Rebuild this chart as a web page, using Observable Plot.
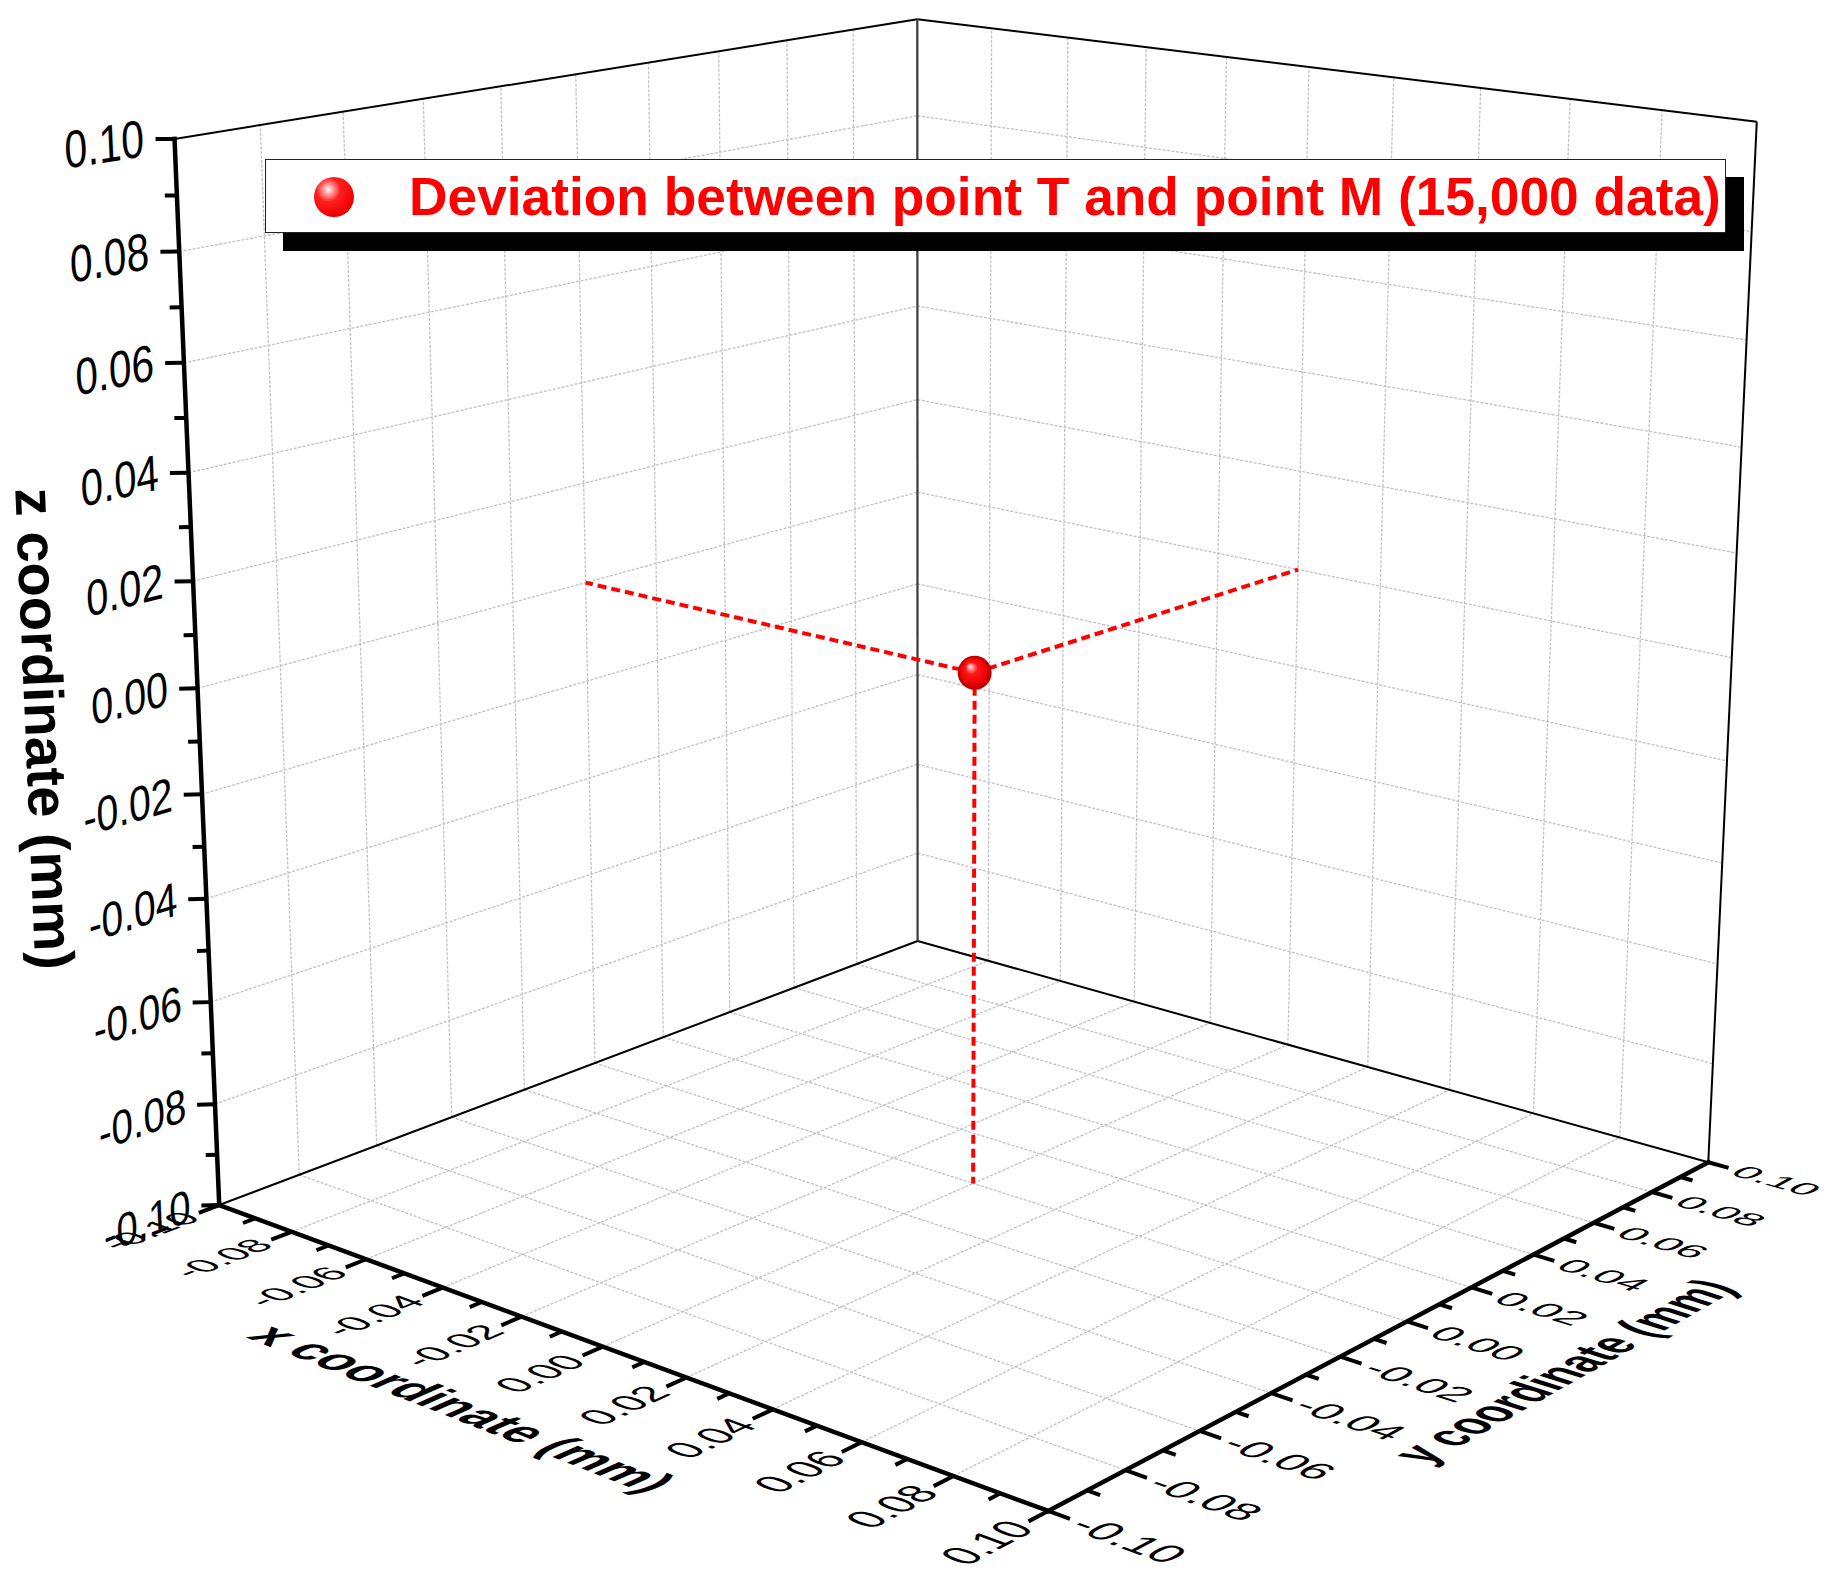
<!DOCTYPE html>
<html>
<head>
<meta charset="utf-8">
<script src="https://cdn.jsdelivr.net/npm/d3@7"></script>
<script src="https://cdn.jsdelivr.net/npm/@observablehq/plot@0.6"></script>
<style>
  html, body { margin:0; padding:0; background:#fff; }
  #wrap { position:relative; width:1833px; height:1594px; overflow:hidden; font-family:'Liberation Sans', Arial, sans-serif; }
  #wrap svg { position:absolute; left:0; top:0; }
  #legend { position:absolute; left:265px; top:159px; width:1459px; height:72px; background:#fff; border:1.5px solid #222; box-shadow:18px 18px 0 0 #000; }
  #legend .ball { position:absolute; left:48px; top:17px; width:40px; height:40px; border-radius:50%;
    background: radial-gradient(circle at 36% 32%, #ffffff 0%, #ffb0b0 10%, #ff2020 32%, #f00000 70%, #b00000 100%); }
  #legend .lab { position:absolute; left:143px; top:0; line-height:74px; font-size:53.3px; font-weight:bold; color:#ff0000; white-space:nowrap; }
</style>
</head>
<body>
<div id="wrap"></div>
<script>
// ---------------- DATA ----------------
const axisDomain = [-0.10, 0.10];
const xTickValues = [-0.10, -0.08, -0.06, -0.04, -0.02, 0.00, 0.02, 0.04, 0.06, 0.08, 0.10];
const xTickLabels = ["-0.10", "-0.08", "-0.06", "-0.04", "-0.02", "0.00", "0.02", "0.04", "0.06", "0.08", "0.10"];
const yTickValues = [-0.10, -0.08, -0.06, -0.04, -0.02, 0.00, 0.02, 0.04, 0.06, 0.08, 0.10];
const yTickLabels = ["-0.10", "-0.08", "-0.06", "-0.04", "-0.02", "0.00", "0.02", "0.04", "0.06", "0.08", "0.10"];
const zTickValues = [-0.10, -0.08, -0.06, -0.04, -0.02, 0.00, 0.02, 0.04, 0.06, 0.08, 0.10];
const zTickLabels = ["-0.10", "-0.08", "-0.06", "-0.04", "-0.02", "0.00", "0.02", "0.04", "0.06", "0.08", "0.10"];
const minorTickValues = [-0.09, -0.07, -0.05, -0.03, -0.01, 0.01, 0.03, 0.05, 0.07, 0.09];
const pointX = [0.000];
const pointY = [0.000];
const pointZ = [0.000];
const legendLabel = "Deviation between point T and point M (15,000 data)";
const xTitle = "x coordinate (mm)";
const yTitle = "y coordinate (mm)";
const zTitle = "z coordinate (mm)";

// ---------------- CAMERA (perspective view of the unit box) ----------------
const W = 1833, H = 1594;
const cam = [
  [347.79294, 431.87541, -28.02191, 974.16811],
  [49.07125, -55.70249, -546.52152, 672.28571],
  [-0.07053, 0.08355, -0.03036, 1.00000]
];
const half = 0.1;
function P3(x,y,z){
  const X=x/half, Y=y/half, Z=z/half;
  const w = cam[2][0]*X+cam[2][1]*Y+cam[2][2]*Z+cam[2][3];
  return [(cam[0][0]*X+cam[0][1]*Y+cam[0][2]*Z+cam[0][3])/w, (cam[1][0]*X+cam[1][1]*Y+cam[1][2]*Z+cam[1][3])/w, w];
}

// ---------------- LAYOUT ----------------
const F0 = 20;                 // nominal font size for 3D text
const zTickEm = 0.0093, xyTickEm = 0.0090, titleEm = 0.0112;
const majorLen = {x:0.005, y:0.0045, z:0.0033}, minorLen = {x:0.003, y:0.0027, z:0.0021};
const zLabelOffset = 0.0053, xLabelOffset = 0.0065, yLabelOffset = 0.0062;
const xTitleOffset = 0.034, yTitleOffset = 0.033, zTitleOffset = 0.028, zTitleShift = -0.007;

const [lo, hi] = axisDomain;
const D = Math.SQRT1_2;
function seg(a,b){ const p=P3(...a), q=P3(...b); return {x1:p[0],y1:p[1],x2:q[0],y2:q[1]}; }
function jac(p, dir, e){ const h=1e-4; const a=P3(...p), b=P3(p[0]+dir[0]*h,p[1]+dir[1]*h,p[2]+dir[2]*h); const k=e/F0/h; return [(b[0]-a[0])*k,(b[1]-a[1])*k]; }
function textMatrix(p, base, up, e){ const t=jac(p,base,e), u=jac(p,up,e); return [t[0],t[1],-u[0],-u[1]]; }

const inner = v => v > lo + 1e-9 && v < hi - 1e-9;
const grid = [];
xTickValues.filter(inner).forEach(x => { grid.push(seg([x,lo,lo],[x,hi,lo])); grid.push(seg([x,hi,lo],[x,hi,hi])); });
yTickValues.filter(inner).forEach(y => { grid.push(seg([lo,y,lo],[hi,y,lo])); grid.push(seg([lo,y,lo],[lo,y,hi])); });
zTickValues.filter(inner).forEach(z => { grid.push(seg([lo,lo,z],[lo,hi,z])); grid.push(seg([lo,hi,z],[hi,hi,z])); });

const edges = [seg([lo,lo,hi],[lo,hi,hi]), seg([lo,hi,hi],[hi,hi,hi]), seg([hi,hi,lo],[hi,hi,hi]),
               seg([lo,lo,lo],[lo,hi,lo]), seg([lo,hi,lo],[hi,hi,lo])];
const backEdge = [seg([lo,hi,lo],[lo,hi,hi])];
const axes = [seg([lo,lo,lo],[lo,lo,hi]), seg([lo,lo,lo],[hi,lo,lo]), seg([hi,lo,lo],[hi,hi,lo])];

const ticks = [];
function addTicks(vals, len){
  vals.forEach(v => {
    ticks.push(seg([v,lo,lo],[v,lo-len.x,lo]));
    ticks.push(seg([hi,v,lo],[hi+len.y,v,lo]));
    ticks.push(seg([lo,lo,v],[lo-D*len.z,lo-D*len.z,v]));
  });
}
addTicks(xTickValues, majorLen);
addTicks(minorTickValues, minorLen);

const drops = [];
pointX.forEach((px,i) => { const py=pointY[i], pz=pointZ[i];
  drops.push(seg([px,py,pz],[lo,py,pz])); drops.push(seg([px,py,pz],[px,hi,pz])); drops.push(seg([px,py,pz],[px,py,lo])); });
const pts = pointX.map((px,i) => { const s=P3(px,pointY[i],pointZ[i]); return {x:s[0], y:s[1]}; });

function lab(p, text, base, up, e){ const s=P3(...p); return {x:s[0], y:s[1], text, m:textMatrix(p,base,up,e)}; }
const zLab = zTickValues.map((z,i) => lab([lo-D*zLabelOffset, lo-D*zLabelOffset, z], zTickLabels[i], [0,1,0], [0,0,1], zTickEm));
const xLab = xTickValues.map((x,i) => lab([x, lo-xLabelOffset, lo], xTickLabels[i], [0,1,0], [-1,0,0], xyTickEm));
const yLab = yTickValues.map((y,i) => lab([hi+yLabelOffset, y, lo], yTickLabels[i], [1,0,0], [0,1,0], xyTickEm));
const xTit = [lab([(lo+hi)/2, lo-xTitleOffset, lo], xTitle, [1,0,0], [0,1,0], titleEm)];
const yTit = [lab([hi+yTitleOffset, (lo+hi)/2, lo], yTitle, [0,1,0], [-1,0,0], titleEm)];
const zt = P3(lo-D*zTitleOffset, lo-D*zTitleOffset, zTitleShift);
const za = P3(lo,lo,hi), zb = P3(lo,lo,lo);
const zTit = [{x:zt[0], y:zt[1], text:zTitle}];
const zAngle = Math.atan2(zb[1]-za[1], zb[0]-za[0]) * 180 / Math.PI;

const L = (data, o) => Plot.link(data, {x1:"x1", y1:"y1", x2:"x2", y2:"y2", ...o});
const T = (data, anchor, weight) => Plot.text(data, {x:"x", y:"y", text:"text", rotate: () => 0, textAnchor:anchor, fontSize:F0, fontWeight:weight, fill:"#000"});

const plot = Plot.plot({
  width: W, height: H, margin: 0,
  x: {type:"identity", axis:null}, y: {type:"identity", axis:null},
  style: {fontFamily:"'Liberation Sans', Arial, sans-serif", background:"#fff", overflow:"visible"},
  marks: [
    L(grid, {stroke:"#c2c2c2", strokeWidth:1.3, strokeDasharray:"3,1.5"}),
    L(edges, {stroke:"#000", strokeWidth:2}),
    L(backEdge, {stroke:"#3a3a3a", strokeWidth:2.2}),
    L(drops, {stroke:"#ff0000", strokeWidth:4, strokeDasharray:"9,5"}),
    Plot.dot(pts, {x:"x", y:"y", r:17, fill:"url(#ball)", stroke:"none"}),
    L(axes, {stroke:"#000", strokeWidth:4.5, strokeLinecap:"square"}),
    L(ticks, {stroke:"#000", strokeWidth:4}),
    T(zLab, "end", "normal"),
    T(xLab, "end", "normal"),
    T(yLab, "start", "normal"),
    T(xTit, "middle", "bold"),
    T(yTit, "middle", "bold"),
    Plot.text(zTit, {x:"x", y:"y", text:"text", rotate:zAngle, fontSize:56, fontWeight:"bold", textAnchor:"middle", fill:"#000"})
  ]
});

// gradient for the sphere
const defs = d3.select(plot).insert("defs", ":first-child");
const rg = defs.append("radialGradient").attr("id","ball").attr("cx","0.5").attr("cy","0.5").attr("r","0.5").attr("fx","0.36").attr("fy","0.3");
[[0,"#ffffff"],[0.12,"#ffa0a0"],[0.35,"#ff1818"],[0.75,"#f00000"],[1,"#a80000"]].forEach(([o,c]) => rg.append("stop").attr("offset",o).attr("stop-color",c));

// put 3D text in its plane: each text group (in mark order) gets per-label affine matrices
const textGroups = Array.from(plot.querySelectorAll("g")).filter(g => g.querySelector(":scope > text"));
function apply3D(group, data){
  if (!group) return;
  d3.select(group).selectAll(":scope > text").each(function(i){
    const d = data[i]; if (!d) return;
    const t = this.getAttribute("transform") || "";
    const mm = /translate\(\s*([-\d.e+]+)[ ,]+([-\d.e+]+)\s*\)/.exec(t);
    let tx, ty;
    if (mm) { tx=+mm[1]; ty=+mm[2]; } else { tx=+(this.getAttribute("x")||0); ty=+(this.getAttribute("y")||0); this.removeAttribute("x"); this.removeAttribute("y"); }
    this.setAttribute("transform", `translate(${tx},${ty}) matrix(${d.m.join(",")},0,0)`);
  });
}
[zLab, xLab, yLab, xTit, yTit].forEach((data, k) => apply3D(textGroups[k], data));

const wrap = document.getElementById("wrap");
wrap.appendChild(plot);
const lg = document.createElement("div"); lg.id = "legend";
lg.innerHTML = `<div class="ball"></div><div class="lab"></div>`;
lg.querySelector(".lab").textContent = legendLabel;
wrap.appendChild(lg);
</script>
</body>
</html>
